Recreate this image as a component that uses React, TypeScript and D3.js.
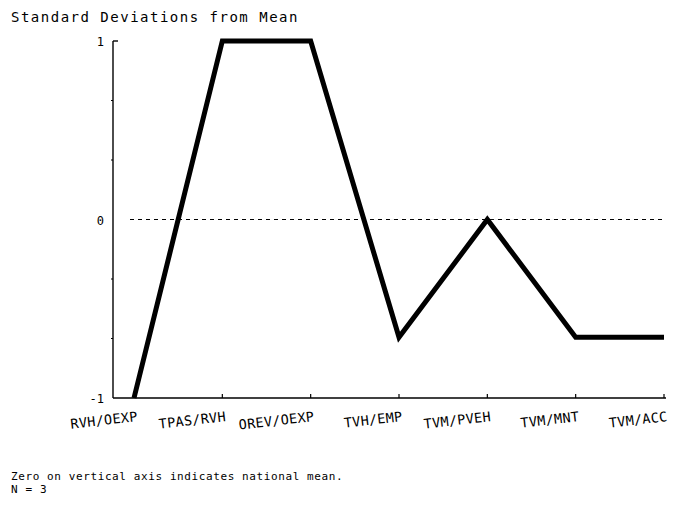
import React from "react";
import * as d3 from "d3";

const categories = ["RVH/OEXP", "TPAS/RVH", "OREV/OEXP", "TVH/EMP", "TVM/PVEH", "TVM/MNT", "TVM/ACC"];
const values = [-1, 1, 1, -0.66, 0, -0.66, -0.66];
const yTickValues = [-1, 0, 1];
const yMinorTicks = [-2 / 3, -1 / 3, 1 / 3, 2 / 3];
const title = "Standard Deviations from Mean";
const footnotes = ["Zero on vertical axis indicates national mean.", "N = 3"];

const W = 678;
const H = 505;
const FONT = "'DejaVu Sans Mono', monospace";

export default function App() {
  const x = d3.scalePoint<string>().domain(categories).range([134, 664]);
  const y = d3.scaleLinear().domain([-1, 1]).range([398, 41]);
  const axisX = 113;
  const axisRight = 666;

  const line = d3
    .line<number>()
    .x((_, i) => x(categories[i]) as number)
    .y((d) => y(d));

  return (
    <svg width={W} height={H} style={{ position: "absolute", left: 0, top: 0, background: "#fff" }}>
      <text x={11} y={22} fontFamily={FONT} fontSize={14} letterSpacing={1.5} fill="#000">
        {title}
      </text>

      {/* y axis */}
      <line x1={axisX} x2={axisX} y1={y(1)} y2={y(-1)} stroke="#000" strokeWidth={1.4} />
      <line x1={axisX} x2={axisX + 5} y1={y(1)} y2={y(1)} stroke="#000" strokeWidth={1.4} />
      {yMinorTicks.map((t) => (
        <line key={t} x1={axisX - 2} x2={axisX} y1={y(t)} y2={y(t)} stroke="#000" strokeWidth={1.2} />
      ))}
      {yTickValues.map((t) => (
        <text
          key={t}
          x={axisX - 9}
          y={y(t) + 5}
          textAnchor="end"
          fontFamily={FONT}
          fontSize={12}
          fill="#000"
        >
          {t === -1 ? "-1" : String(t)}
        </text>
      ))}

      {/* x axis */}
      <line x1={axisX} x2={axisRight} y1={y(-1)} y2={y(-1)} stroke="#000" strokeWidth={1.4} />
      {categories.map((c) => (
        <line key={c} x1={x(c)} x2={x(c)} y1={y(-1)} y2={y(-1) - 4} stroke="#000" strokeWidth={1.2} />
      ))}
      {categories.map((c) => (
        <text
          key={c + "l"}
          transform={`translate(${(x(c) as number) + 4},${y(-1) + 23}) rotate(-6.5)`}
          textAnchor="end"
          fontFamily={FONT}
          fontSize={13.5}
          letterSpacing={0.3}
          fill="#000"
        >
          {c}
        </text>
      ))}

      {/* zero reference */}
      <line
        x1={130}
        x2={axisRight}
        y1={y(0)}
        y2={y(0)}
        stroke="#000"
        strokeWidth={1}
        strokeDasharray="4,4"
      />

      <path d={line(values) as string} fill="none" stroke="#000" strokeWidth={5} strokeLinejoin="miter" />

      {footnotes.map((f, i) => (
        <text key={i} x={11} y={480 + i * 13} fontFamily={FONT} fontSize={11} letterSpacing={0.6} fill="#000">
          {f}
        </text>
      ))}
    </svg>
  );
}
